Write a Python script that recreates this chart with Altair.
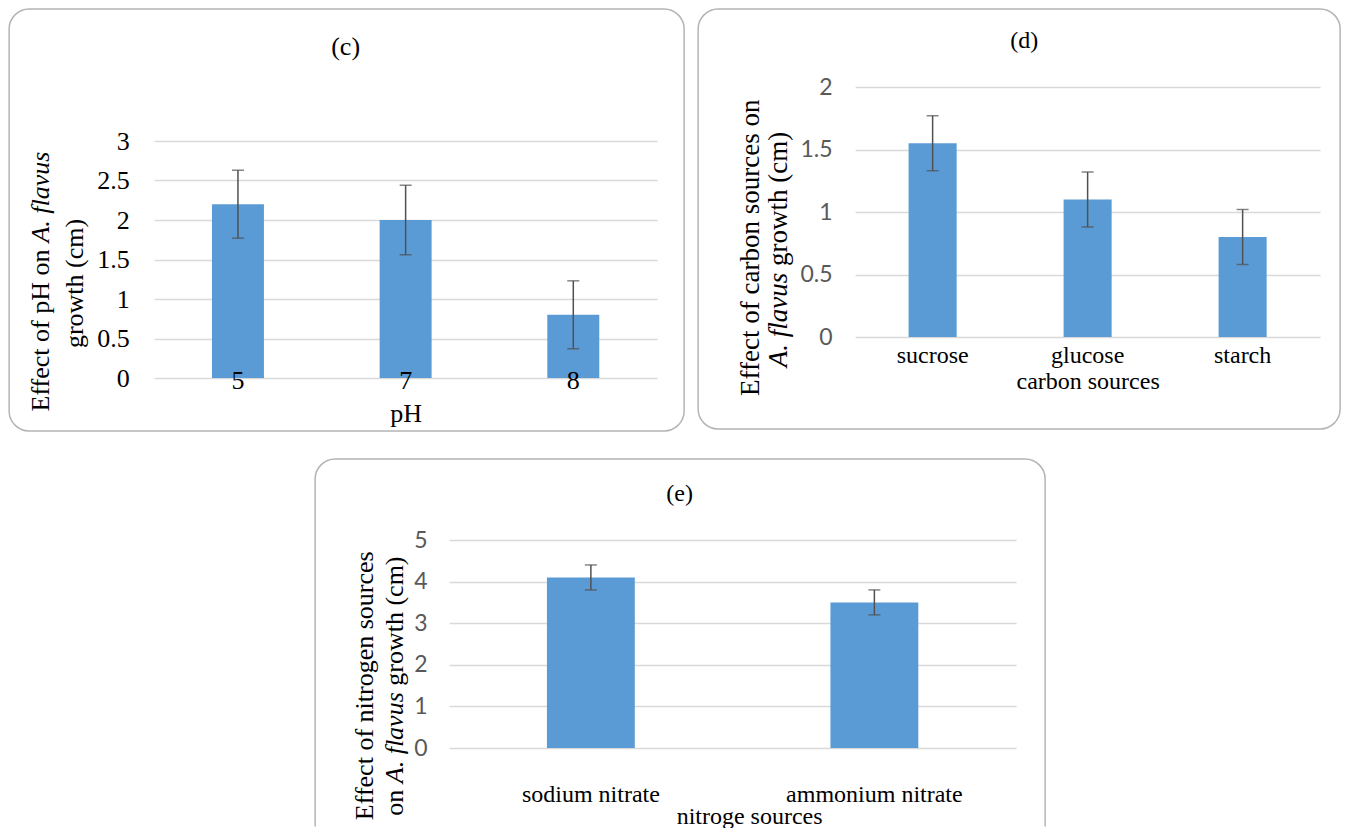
import altair as alt
import pandas as pd

# ---------------- data ----------------
ph_levels = ["5", "7", "8"]
ph_growth = [2.2, 2.0, 0.8]
ph_error = [0.43, 0.44, 0.43]
ph_ticks = [0, 0.5, 1, 1.5, 2, 2.5, 3]

carbon_sources = ["sucrose", "glucose", "starch"]
carbon_growth = [1.55, 1.1, 0.8]
carbon_error = [0.22, 0.22, 0.22]
carbon_ticks = [0, 0.5, 1, 1.5, 2]

nitrogen_sources = ["sodium nitrate", "ammonium nitrate"]
nitrogen_growth = [4.1, 3.5]
nitrogen_error = [0.3, 0.3]
nitrogen_ticks = [0, 1, 2, 3, 4, 5]

panel_titles = ["(c)", "(d)", "(e)"]
x_titles = ["pH", "carbon sources", "nitroge sources"]

c_line1 = [("Effect of pH on", False), ("A. flavus", True)]
c_line2 = [("growth (cm)", False)]
d_line1 = [("Effect of carbon sources on", False)]
d_line2 = [("A. flavus", True), ("growth (cm)", False)]
e_line1 = [("Effect of nitrogen sources", False)]
e_line2 = [("on", False), ("A. flavus", True), ("growth (cm)", False)]

# ---------------- styles ----------------
SERIF = "Liberation Serif"
SANS = "Lato"
BAR = "#5b9bd5"
ERR = "#505050"
GRID = "#d9d9d9"
BORDER = "#b4b4b4"

# Times / Liberation Serif advance widths (per 1000 em) for joining mixed-style text
REG = {" ": 250, "(": 333, ")": 333, ".": 250, "A": 722, "E": 611, "H": 722,
       "a": 444, "b": 500, "c": 444, "d": 500, "e": 444, "f": 333, "g": 500,
       "h": 500, "i": 278, "l": 278, "m": 778, "n": 500, "o": 500, "p": 500,
       "r": 333, "s": 389, "t": 278, "u": 500, "v": 500, "w": 722}
ITA = {" ": 250, ".": 250, "A": 611, "a": 500, "f": 278, "l": 278, "s": 389,
       "u": 500, "v": 444}


def text_width(s, italic, size):
    table = ITA if italic else REG
    return sum(table[ch] for ch in s) * size / 1000.0


def rotated_line(pieces, x, y_center, size):
    widths = [text_width(t, it, size) for t, it in pieces]
    gap = 0.25 * size
    total = sum(widths) + gap * (len(pieces) - 1)
    y_start = y_center + total / 2
    layers = []
    offset = 0.0
    for (t, it), w in zip(pieces, widths):
        layers.append(
            alt.Chart(pd.DataFrame({"label": [t]}))
            .mark_text(angle=270, align="left", baseline="middle", dx=offset,
                       font=SERIF, fontSize=size,
                       fontStyle="italic" if it else "normal", color="black")
            .encode(x=alt.value(x), y=alt.value(y_start), text="label:N")
        )
        offset += w + gap
    return layers


def text_at(t, x, y, size):
    return (
        alt.Chart(pd.DataFrame({"label": [t]}))
        .mark_text(align="center", baseline="middle", font=SERIF, fontSize=size, color="black")
        .encode(x=alt.value(x), y=alt.value(y), text="label:N")
    )


def border(x1, x2, y1, y2, open_bottom=False):
    kw = dict(fillOpacity=0, stroke=BORDER, strokeWidth=1.5)
    if open_bottom:
        w, h, r = x2 - x1, y2 - y1, 20
        arc = 3.14159 * r / 2
        first = (w - 2 * r) + arc + (h - r) - 0.5
        kw.update(cornerRadiusTopLeft=r, cornerRadiusTopRight=r,
                  strokeDash=[first, w + 1.0, (h - r) + arc + 5, 4000])
    else:
        kw.update(cornerRadius=20)
    return (
        alt.Chart(pd.DataFrame({"b": [0]}))
        .mark_rect(**kw)
        .encode(x=alt.value(x1), x2=alt.value(x2), y=alt.value(y1), y2=alt.value(y2))
    )


def spacer(x1, x2):
    # invisible, only widens the panel's bounds so that centring lands it like the reference
    return (
        alt.Chart(pd.DataFrame({"b": [0]}))
        .mark_rect(fillOpacity=0, strokeOpacity=0)
        .encode(x=alt.value(x1), x2=alt.value(x2), y=alt.value(0), y2=alt.value(1))
    )


def bars_layers(cats, vals, errs, x_axis, y_axis, y_max, y_range=None):
    df = pd.DataFrame({
        "cat": cats,
        "val": vals,
        "lo": [v - e for v, e in zip(vals, errs)],
        "hi": [v + e for v, e in zip(vals, errs)],
    })
    xs = alt.Scale(paddingInner=0.69, paddingOuter=0.345)
    if y_range is None:
        ys = alt.Scale(domain=[0, y_max], nice=False)
    else:
        ys = alt.Scale(domain=[0, y_max], nice=False, range=y_range)
    X = lambda: alt.X("cat:N", sort=cats, scale=xs, axis=x_axis)
    base = alt.Chart(df)
    bars = base.mark_bar(color=BAR).encode(x=X(), y=alt.Y("val:Q", scale=ys, axis=y_axis))
    rule = base.mark_rule(color=ERR, strokeWidth=1.5).encode(
        x=X(), y=alt.Y("lo:Q", scale=ys, axis=y_axis), y2="hi:Q")
    t_hi = base.mark_tick(color=ERR, thickness=1.5, size=12).encode(
        x=X(), y=alt.Y("hi:Q", scale=ys, axis=y_axis))
    t_lo = base.mark_tick(color=ERR, thickness=1.5, size=12).encode(
        x=X(), y=alt.Y("lo:Q", scale=ys, axis=y_axis))
    return [bars, rule, t_hi, t_lo]


def y_axis(ticks, font, size, color, pad):
    return alt.Axis(values=ticks, format="~g", labelFont=font, labelFontSize=size,
                    labelColor=color, labelPadding=pad, ticks=False, domain=False,
                    grid=True, gridColor=GRID, gridWidth=1.5, title=None)


# ---------------- panel (c) ----------------
# the view starts at the same height as panel (d); the bars use its lower 237 px
Wc, Hc = 503, 291
xc = alt.Axis(title=x_titles[0], titleFont=SERIF, titleFontSize=26, titleColor="black",
              titleFontWeight="normal", titleY=22, titleBaseline="top",
              labelFont=SERIF, labelFontSize=26, labelColor="black", labelAngle=0,
              labelPadding=-11, labelBaseline="top", ticks=False, domain=False,
              grid=False, zindex=1)
yc = y_axis(ph_ticks, SERIF, 26, "black", 25)
panel_c = alt.layer(
    border(-145, Wc + 27, -78, Hc + 53),
    *bars_layers(ph_levels, ph_growth, ph_error, xc, yc, 3, y_range=[Hc, 54]),
    text_at(panel_titles[0], 191.5, -40.5, 26),
    *rotated_line(c_line1, -113, 194.5, 26),
    *rotated_line(c_line2, -79, 196.5, 26),
).properties(width=Wc, height=Hc)

# ---------------- panel (d) ----------------
Wd, Hd = 465, 250
xd = alt.Axis(title=x_titles[1], titleFont=SERIF, titleFontSize=24, titleColor="black",
              titleFontWeight="normal", titleY=32, titleBaseline="top",
              labelFont=SERIF, labelFontSize=24, labelColor="black", labelAngle=0,
              labelPadding=6, labelBaseline="top", ticks=False, domain=False,
              grid=False, zindex=1)
yd = y_axis(carbon_ticks, SANS, 23, "#595959", 23)
panel_d = alt.layer(
    border(-157, Wd + 20, -78, Hd + 92),
    *bars_layers(carbon_sources, carbon_growth, carbon_error, xd, yd, 2),
    text_at(panel_titles[1], 169, -46, 24),
    *rotated_line(d_line1, -104, 160.5, 27),
    *rotated_line(d_line2, -76, 162.5, 27),
).properties(width=Wd, height=Hd)

# ---------------- panel (e) ----------------
We, He = 567, 208
xe = alt.Axis(title=x_titles[2], titleFont=SERIF, titleFontSize=24, titleColor="black",
              titleFontWeight="normal", titleY=56, titleBaseline="top",
              titleX=300, titleAlign="center",
              labelFont=SERIF, labelFontSize=24, labelColor="black", labelAngle=0,
              labelPadding=34, labelBaseline="top", ticks=False, domain=False,
              grid=False, zindex=1)
ye = y_axis(nitrogen_ticks, SANS, 23, "#595959", 22)
panel_e = alt.layer(
    spacer(-146, -140),
    border(-134, We + 29, -81, He + 79, open_bottom=True),
    *bars_layers(nitrogen_sources, nitrogen_growth, nitrogen_error, xe, ye, 5),
    text_at(panel_titles[2], 230.5, -46, 24),
    *rotated_line(e_line1, -84, 145.5, 26),
    *rotated_line(e_line2, -54, 146.1, 26),
).properties(width=We, height=He)

top_row = alt.hconcat(panel_c, panel_d, spacing=12)
chart = (
    alt.vconcat(top_row, panel_e, spacing=26, center=True)
    .properties(padding=0, background="white")
    .configure(font=SERIF)
    .configure_view(stroke="transparent", strokeWidth=0)
)

chart.save("out.html", embed_options={"renderer": "svg", "actions": False})
